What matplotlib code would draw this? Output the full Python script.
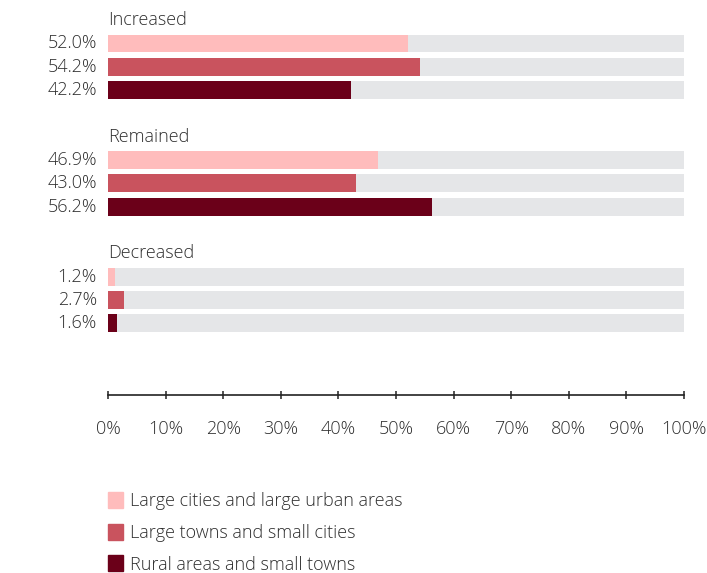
import matplotlib
matplotlib.use("Agg")
import matplotlib.pyplot as plt
from matplotlib.patches import Rectangle
from matplotlib.ticker import FuncFormatter

plt.rcParams['font.family'] = ['Open Sans', 'DejaVu Sans']

groups = ["Increased", "Remained", "Decreased"]
series = ["Large cities and large urban areas",
          "Large towns and small cities",
          "Rural areas and small towns"]
values = {
    "Large cities and large urban areas": [52.0, 46.9, 1.2],
    "Large towns and small cities": [54.2, 43.0, 2.7],
    "Rural areas and small towns": [42.2, 56.2, 1.6],
}
ticks = [0, 10, 20, 30, 40, 50, 60, 70, 80, 90, 100]

colors = ["#ffbcbc", "#c9535e", "#6b0019"]
track = "#e5e6e8"
text_color = "#2e2e2e"
fs = 13.0
fw = "light"

W, H = 707, 573
fig = plt.figure(figsize=(W / 100, H / 100), dpi=100)
ax = fig.add_axes([108 / W, 1 - 395 / H, (684 - 108) / W, (395 - 8.5) / H])

bar_h = 0.77
for g, group in enumerate(groups):
    base = g * 5
    ax.text(0, base - 1, group, ha="left", va="center", fontsize=fs,
            color=text_color, fontweight=fw)
    for s, name in enumerate(series):
        row = base + s
        v = values[name][g]
        ax.barh(row, 100, height=bar_h, color=track, zorder=1)
        ax.barh(row, v, height=bar_h, color=colors[s], zorder=2)
        ax.annotate(f"{v:.1f}%", xy=(0, row), xytext=(-8, 0),
                    textcoords="offset points", ha="right", va="center",
                    fontsize=fs, color=text_color, fontweight=fw)

ax.set_xlim(0, 100)
ax.set_ylim(15.07, -1.5)
for side in ["top", "right", "left"]:
    ax.spines[side].set_visible(False)
ax.spines["bottom"].set_linewidth(1.2)
ax.spines["bottom"].set_color("#222222")
ax.set_yticks([])
ax.set_xticks(ticks)
ax.xaxis.set_major_formatter(FuncFormatter(lambda x, p: f"{x:.0f}%"))
ax.tick_params(axis="x", direction="inout", length=6, width=1.1,
               color="#222222", pad=15, labelsize=fs, labelcolor=text_color)
for lbl in ax.get_xticklabels():
    lbl.set_fontweight(fw)

# legend
leg_y = [500, 532, 563]
for s, name in enumerate(series):
    yc = leg_y[s]
    fig.add_artist(Rectangle((108 / W, 1 - (yc + 8) / H), 15 / W, 16 / H,
                             transform=fig.transFigure, color=colors[s]))
    fig.text(130 / W, 1 - (yc + 1.5) / H, name, ha="left", va="center",
             fontsize=fs, color=text_color, fontweight=fw)

fig.savefig("out.png", dpi=100)
